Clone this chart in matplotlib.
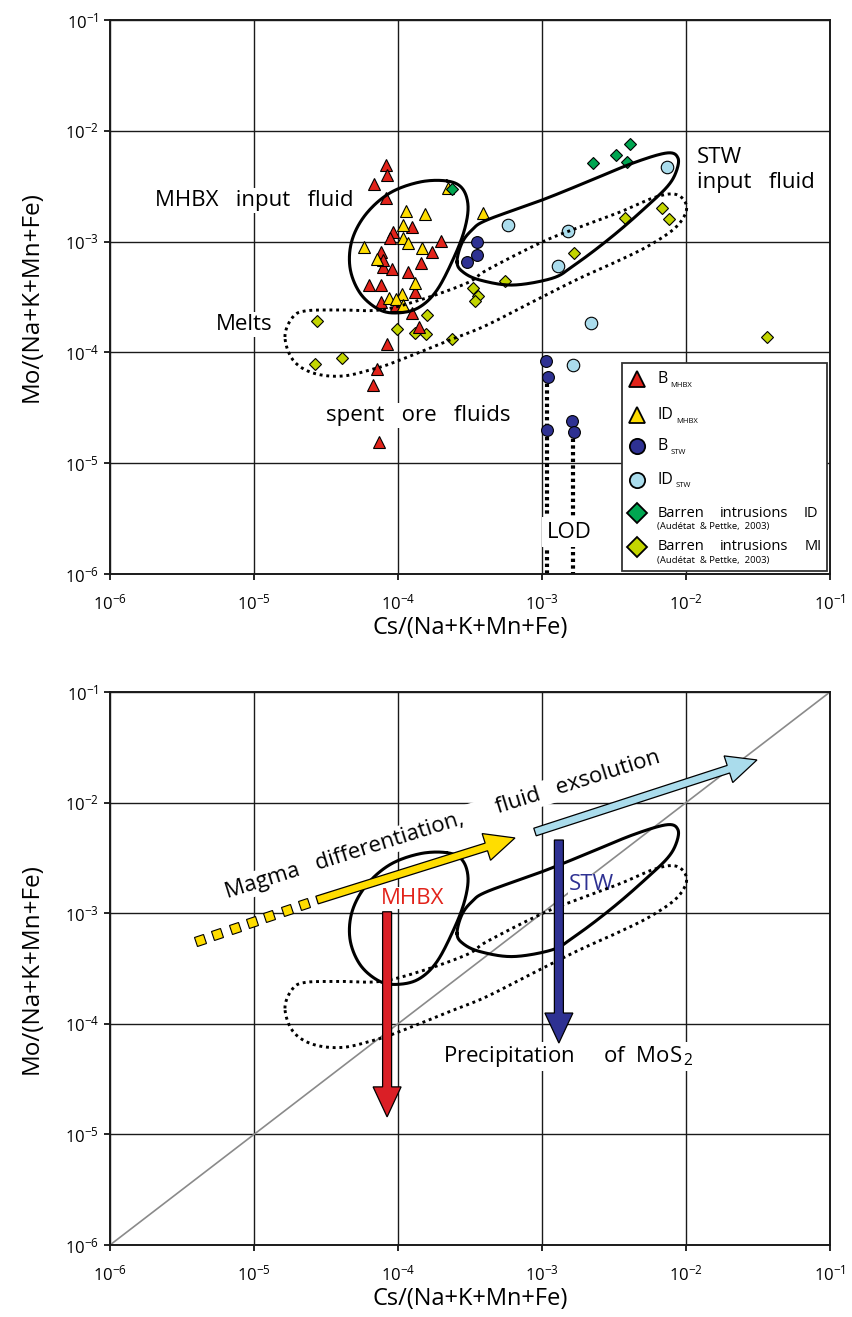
import numpy as np
import matplotlib
matplotlib.use('Agg')
import matplotlib.pyplot as plt
from matplotlib.patches import Rectangle, FancyArrow
from matplotlib.markers import MarkerStyle
from matplotlib.transforms import Affine2D, IdentityTransform
from matplotlib.ticker import FixedLocator, FixedFormatter, NullLocator

plt.rcParams['font.family'] = ['Open Sans', 'DejaVu Sans']
plt.rcParams['mathtext.fontset'] = 'custom'
plt.rcParams['mathtext.rm'] = 'Open Sans'
plt.rcParams['mathtext.it'] = 'Open Sans:italic'
plt.rcParams['mathtext.bf'] = 'Open Sans:bold'
plt.rcParams['mathtext.default'] = 'regular'

# ---------------- data ----------------
tick_values = [1e-6, 1e-5, 1e-4, 1e-3, 1e-2, 1e-1]
tick_labels = [r'10$^{-6}$', r'10$^{-5}$', r'10$^{-4}$', r'10$^{-3}$', r'10$^{-2}$', r'10$^{-1}$']
x_label = 'Cs/(Na+K+Mn+Fe)'
y_label = 'Mo/(Na+K+Mn+Fe)'

# B MHBX (red triangles)
b_mhbx_cs = [8.3e-5, 8.4e-5, 6.8e-5, 8.3e-5, 9.2e-5, 8.8e-5, 1.25e-4, 1.99e-4, 1.72e-4, 7.6e-5,
             7.9e-5, 9.1e-5, 1.44e-4, 1.17e-4, 6.3e-5, 7.6e-5, 1.31e-4, 7.6e-5, 9.7e-5, 1.25e-4,
             1.40e-4, 8.4e-5, 7.2e-5, 6.7e-5, 7.4e-5, 7.9e-5]
b_mhbx_mo = [4.9e-3, 4.0e-3, 3.3e-3, 2.5e-3, 1.22e-3, 1.08e-3, 1.35e-3, 1.01e-3, 8.05e-4, 8.05e-4,
             5.9e-4, 5.66e-4, 6.41e-4, 5.32e-4, 4.06e-4, 4.06e-4, 3.51e-4, 2.85e-4, 2.68e-4, 2.27e-4,
             1.69e-4, 1.19e-4, 7.1e-5, 5.1e-5, 1.55e-5, 6.8e-4]
# ID MHBX (yellow triangles)
id_mhbx_cs = [2.22e-4, 1.14e-4, 1.54e-4, 1.08e-4, 1.08e-4, 1.17e-4, 1.47e-4, 5.8e-5, 7.2e-5, 1.31e-4,
              1.07e-4, 8.7e-5, 9.7e-5, 1.08e-4, 3.89e-4]
id_mhbx_mo = [3.05e-3, 1.89e-3, 1.78e-3, 1.41e-3, 1.08e-3, 9.7e-4, 8.75e-4, 8.9e-4, 6.97e-4, 4.23e-4,
              3.37e-4, 3.1e-4, 3.03e-4, 2.68e-4, 1.81e-3]
# B STW (dark blue circles)
b_stw_cs = [3.54e-4, 3.54e-4, 3.01e-4, 1.07e-3, 1.10e-3, 1.08e-3, 1.62e-3, 1.67e-3]
b_stw_mo = [9.9e-4, 7.57e-4, 6.54e-4, 8.36e-5, 6.0e-5, 2.0e-5, 2.4e-5, 1.91e-5]
# ID STW (light blue circles)
id_stw_cs = [7.38e-3, 5.81e-4, 1.52e-3, 1.29e-3, 2.19e-3, 1.64e-3]
id_stw_mo = [4.71e-3, 1.41e-3, 1.25e-3, 6.03e-4, 1.84e-4, 7.7e-5]
# Barren intrusions ID (green diamonds)
barren_id_cs = [2.37e-4, 2.26e-3, 3.27e-3, 4.08e-3, 3.89e-3]
barren_id_mo = [2.98e-3, 5.12e-3, 6.05e-3, 7.6e-3, 5.23e-3]
# Barren intrusions MI (yellow-green diamonds)
barren_mi_cs = [2.74e-5, 9.8e-5, 1.59e-4, 1.31e-4, 1.57e-4, 2.37e-4, 2.65e-5, 4.08e-5, 3.32e-4,
                3.59e-4, 3.41e-4, 5.54e-4, 1.67e-3, 3.77e-3, 6.81e-3, 7.62e-3, 3.65e-2]
barren_mi_mo = [1.92e-4, 1.63e-4, 2.18e-4, 1.5e-4, 1.47e-4, 1.32e-4, 7.85e-5, 8.9e-5, 3.81e-4,
                3.23e-4, 2.91e-4, 4.41e-4, 7.89e-4, 1.63e-3, 2.01e-3, 1.6e-3, 1.38e-4]

# limit of detection lines
lod_cs = [1.08e-3, 1.65e-3]
lod_mo_top = [6.0e-5, 1.91e-5]
lod_mo_bottom = 1e-6

# envelopes (log10 Cs, log10 Mo outline points)
mhbx_env_lx = [-3.660, -3.556, -3.514, -3.535, -3.604, -3.729, -3.861, -4.014, -4.139, -4.264,
               -4.333, -4.319, -4.222, -4.056, -3.847]
mhbx_env_ly = [-2.453, -2.516, -2.670, -2.877, -3.121, -3.437, -3.599, -3.644, -3.608, -3.464,
               -3.238, -2.986, -2.751, -2.561, -2.462]
stw_env_lx = [-3.590, -3.556, -3.486, -3.382, -3.000, -2.688, -2.368, -2.132, -2.056, -2.069,
              -2.132, -2.285, -2.458, -2.632, -2.785, -2.924, -3.201, -3.431, -3.549]
stw_env_ly = [-3.184, -3.013, -2.895, -2.805, -2.625, -2.462, -2.291, -2.200, -2.245, -2.372,
              -2.507, -2.697, -2.895, -3.076, -3.220, -3.329, -3.392, -3.347, -3.274]
melt_env_lx = [-4.785, -4.736, -4.646, -4.403, -4.125, -3.847, -3.521, -3.382, -3.000, -2.736,
               -2.458, -2.229, -2.090, -2.014, -2.000, -2.076, -2.250, -2.458, -2.736, -3.000,
               -3.382, -3.639, -3.986, -4.146, -4.382, -4.590, -4.729]
melt_env_ly = [-3.861, -3.690, -3.626, -3.617, -3.617, -3.527, -3.374, -3.256, -3.004, -2.868,
               -2.733, -2.606, -2.570, -2.625, -2.733, -2.877, -3.031, -3.166, -3.329, -3.500,
               -3.753, -3.888, -4.069, -4.141, -4.213, -4.186, -4.069]

# trend arrows (Cs, Mo) start -> end
magma_dots_start = (4.22e-6, 5.73e-4)
magma_dots_end = (2.22e-5, 1.21e-3)
magma_dots_count = 7
magma_arrow = ((2.74e-5, 1.315e-3), (6.49e-4, 4.79e-3))
fluid_arrow = ((8.94e-4, 5.42e-3), (3.11e-2, 2.43e-2))
mhbx_arrow = ((8.4e-5, 1.03e-3), (8.4e-5, 1.44e-5))
stw_arrow = ((1.31e-3, 4.59e-3), (1.31e-3, 6.70e-5))

# colours
c_red = '#E2231A'
c_yellow = '#FFDD00'
c_navy = '#2E3192'
c_lblue = '#AADCEC'
c_green = '#00A651'
c_ygreen = '#C3D500'

# ---------------- figure ----------------
W, H = 853, 1317
fig = plt.figure(figsize=(W / 100, H / 100), dpi=100)
ax1 = fig.add_axes([110 / W, 1 - 574 / H, 720 / W, 554 / H])
ax2 = fig.add_axes([110 / W, 1 - 1245 / H, 720 / W, 553 / H])


def closed_spline(lx, ly, n=24):
    P = np.column_stack([lx, ly])
    N = len(P)
    segs = []
    t = np.linspace(0, 1, n, endpoint=False)[:, None]
    for i in range(N):
        p0, p1, p2, p3 = P[(i - 1) % N], P[i], P[(i + 1) % N], P[(i + 2) % N]
        seg = 0.5 * ((2 * p1) + (-p0 + p2) * t + (2 * p0 - 5 * p1 + 4 * p2 - p3) * t ** 2
                     + (-p0 + 3 * p1 - 3 * p2 + p3) * t ** 3)
        segs.append(seg)
    out = np.vstack(segs + [segs[0][:1]])
    return 10 ** out[:, 0], 10 ** out[:, 1]


for ax in (ax1, ax2):
    ax.set_xscale('log')
    ax.set_yscale('log')
    ax.set_xlim(1e-6, 1e-1)
    ax.set_ylim(1e-6, 1e-1)
    ax.xaxis.set_major_locator(FixedLocator(tick_values))
    ax.yaxis.set_major_locator(FixedLocator(tick_values))
    ax.xaxis.set_major_formatter(FixedFormatter(tick_labels))
    ax.yaxis.set_major_formatter(FixedFormatter(tick_labels))
    ax.xaxis.set_minor_locator(NullLocator())
    ax.yaxis.set_minor_locator(NullLocator())
    ax.set_axisbelow(True)
    ax.grid(True, color='#1a1a1a', lw=1.0)
    for s in ax.spines.values():
        s.set_linewidth(1.4)
        s.set_color('#1a1a1a')
    ax.tick_params(axis='x', direction='out', length=4, width=1.2, pad=10, labelsize=12)
    ax.tick_params(axis='y', direction='out', length=4, width=1.2, pad=4, labelsize=12)
    ax.set_xlabel(x_label, fontsize=17)
    ax.set_ylabel(y_label, fontsize=17.5)
    ax.xaxis.set_label_coords(0.5, -0.076)
    ax.yaxis.set_label_coords(-0.092, 0.5)
    # envelopes
    ex, ey = closed_spline(mhbx_env_lx, mhbx_env_ly)
    ax.plot(ex, ey, color='black', lw=2.2, zorder=5, solid_capstyle='round')
    ex, ey = closed_spline(stw_env_lx, stw_env_ly)
    ax.plot(ex, ey, color='black', lw=2.2, zorder=5)
    ex, ey = closed_spline(melt_env_lx, melt_env_ly)
    ax.plot(ex, ey, color='black', lw=2.1, ls=(0, (1.0, 1.3)), zorder=5)

# ---------------- top panel ----------------
mk = dict(ls='none', mec='black', mew=0.8, zorder=3)
ax1.plot(barren_mi_cs, barren_mi_mo, marker='D', ms=6.4, mfc=c_ygreen, **mk)
ax1.plot(b_mhbx_cs, b_mhbx_mo, marker='^', ms=8.8, mfc=c_red, **mk)
ax1.plot(id_mhbx_cs, id_mhbx_mo, marker='^', ms=8.8, mfc=c_yellow, **mk)
ax1.plot(barren_id_cs, barren_id_mo, marker='D', ms=6.0, mfc=c_green, **mk)
ax1.plot(b_stw_cs, b_stw_mo, marker='o', ms=8.5, mfc=c_navy, **mk)
ax1.plot(id_stw_cs, id_stw_mo, marker='o', ms=9.0, mfc=c_lblue, **mk)

for xc, yt in zip(lod_cs, lod_mo_top):
    ax1.plot([xc, xc], [yt, lod_mo_bottom], color='black', lw=3.0, ls=(0, (0.8, 0.8)), zorder=2)

wb = dict(facecolor='white', edgecolor='none', pad=1.5)
ax1.text(2.05e-6, 2.37e-3, 'MHBX   input   fluid', fontsize=16, ha='left', va='center', bbox=wb, zorder=4)
ax1.text(1.19e-2, 4.43e-3, 'STW\ninput   fluid', fontsize=16, ha='left', va='center', linespacing=1.25, zorder=4)
ax1.text(8.53e-6, 1.80e-4, 'Melts', fontsize=16, ha='center', va='center', bbox=wb, zorder=4)
ax1.text(1.38e-4, 2.72e-5, 'spent   ore   fluids', fontsize=16, ha='center', va='center', bbox=wb, zorder=4)
ax1.text(1.54e-3, 2.39e-6, 'LOD', fontsize=16, ha='center', va='center',
         bbox=dict(facecolor='white', edgecolor='none', pad=3), zorder=4)

# legend (drawn manually)
ax1.add_patch(Rectangle((0.711, 0.005), 0.285, 0.376, transform=ax1.transAxes, facecolor='white',
                        edgecolor='#333333', lw=1.3, zorder=7))
mx = 0.732
tx = 0.760
rows = [
    ('^', 11.5, c_red, 'B', 'MHBX', 0.352, 0.778),
    ('^', 11.5, c_yellow, 'ID', 'MHBX', 0.287, 0.786),
    ('o', 11.0, c_navy, 'B', 'STW', 0.231, 0.778),
    ('o', 11.0, c_lblue, 'ID', 'STW', 0.170, 0.786),
]
for m, s, c, main, sub, yy, sx in rows:
    ax1.plot([mx], [yy], marker=m, ms=s, mfc=c, mec='black', mew=1.3, transform=ax1.transAxes,
             zorder=8, clip_on=False)
    ax1.text(tx, yy, main, fontsize=11.5, ha='left', va='center', transform=ax1.transAxes, zorder=8)
    ax1.text(sx, yy - 0.011, sub, fontsize=5.5, ha='left', va='center', transform=ax1.transAxes, zorder=8)
for c, last, yy, yc, xr in [(c_green, 'ID', 0.110, 0.085, 0.983), (c_ygreen, 'MI', 0.049, 0.025, 0.989)]:
    ax1.plot([mx], [yy], marker='D', ms=10.5, mfc=c, mec='black', mew=1.3, transform=ax1.transAxes,
             zorder=8, clip_on=False)
    ax1.text(tx, yy, 'Barren', fontsize=10.5, ha='left', va='center', transform=ax1.transAxes, zorder=8)
    ax1.text(0.895, yy, 'intrusions', fontsize=10.5, ha='center', va='center', transform=ax1.transAxes, zorder=8)
    ax1.text(xr, yy, last, fontsize=10.5, ha='right', va='center', transform=ax1.transAxes, zorder=8)
    ax1.text(tx, yc, '(Audétat  & Pettke,  2003)', fontsize=6.8, ha='left', va='center',
             transform=ax1.transAxes, zorder=8)

# ---------------- bottom panel ----------------
ax2.plot(tick_values[::len(tick_values) - 1], tick_values[::len(tick_values) - 1], color='#8a8a8a', lw=1.2, zorder=2)


def draw_arrow(ax, start, end, color, shaft=9, head_w=28, head_l=30):
    x0, y0 = ax.transData.transform(start)
    x1, y1 = ax.transData.transform(end)
    arr = FancyArrow(x0, y0, x1 - x0, y1 - y0, width=shaft, head_width=head_w, head_length=head_l,
                     length_includes_head=True, facecolor=color, edgecolor='black', lw=0.9,
                     transform=IdentityTransform(), zorder=6)
    ax.add_patch(arr)
    return np.degrees(np.arctan2(y1 - y0, x1 - x0))


ang = draw_arrow(ax2, magma_arrow[0], magma_arrow[1], c_yellow, shaft=8)
draw_arrow(ax2, fluid_arrow[0], fluid_arrow[1], c_lblue, shaft=8)
draw_arrow(ax2, mhbx_arrow[0], mhbx_arrow[1], '#DA1F26', shaft=9)
draw_arrow(ax2, stw_arrow[0], stw_arrow[1], c_navy, shaft=9)

sq_x = np.geomspace(magma_dots_start[0], magma_dots_end[0], magma_dots_count)
sq_y = np.geomspace(magma_dots_start[1], magma_dots_end[1], magma_dots_count)
ax2.plot(sq_x, sq_y, ls='none', marker=MarkerStyle('s', transform=Affine2D().rotate_deg(ang)),
         ms=6.6, mfc=c_yellow, mec='black', mew=0.8, zorder=6)

ax2.text(2.05e-4, 6.3e-3, 'Magma   differentiation,      fluid   exsolution', fontsize=16,
         rotation=ang, rotation_mode='anchor', ha='center', va='center',
         bbox=dict(facecolor='white', edgecolor='none', pad=1.5), zorder=4)
ax2.text(1.27e-4, 1.37e-3, 'MHBX', fontsize=16, color='#E2231A', ha='center', va='center',
         bbox=dict(facecolor='white', edgecolor='none', pad=0.5), zorder=4)
ax2.text(2.19e-3, 1.80e-3, 'STW', fontsize=16, color=c_navy, ha='center', va='center',
         bbox=dict(facecolor='white', edgecolor='none', pad=0.5), zorder=4.5)
ax2.text(1.52e-3, 5.01e-5, r'Precipitation     of  MoS$_{\,2}$', fontsize=16, ha='center', va='center',
         bbox=dict(facecolor='white', edgecolor='none', pad=1.5), zorder=4)

fig.savefig('out.png', dpi=100)
